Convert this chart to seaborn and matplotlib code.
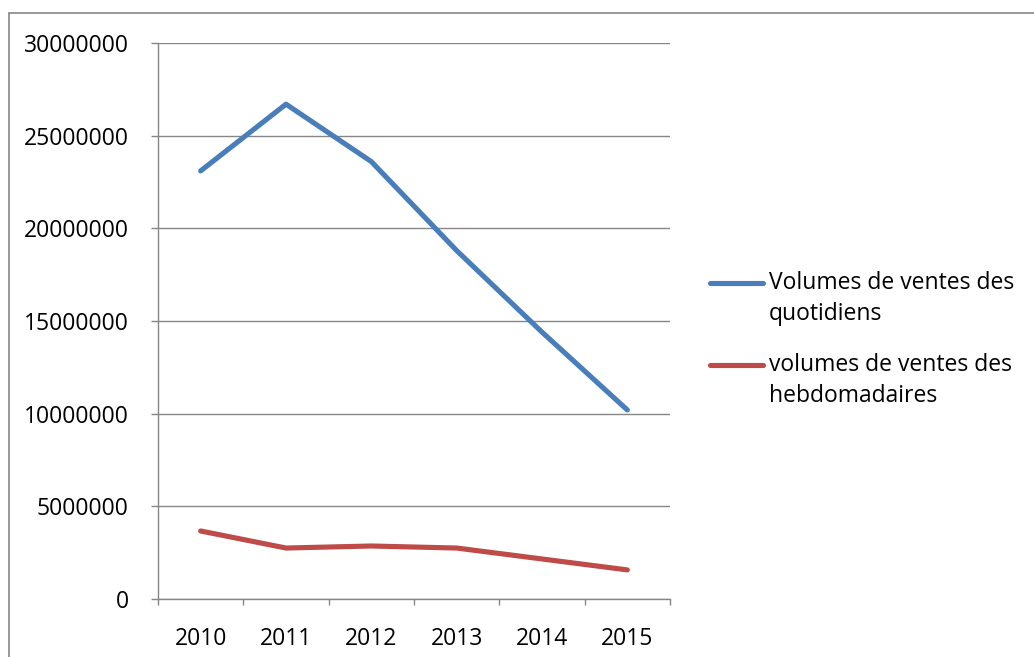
import matplotlib
matplotlib.use("Agg")
import matplotlib.pyplot as plt
from matplotlib.lines import Line2D
import seaborn as sns
import pandas as pd

years = ["2010", "2011", "2012", "2013", "2014", "2015"]
quotidiens = [23100000, 26700000, 23600000, 18800000, 14400000, 10200000]
hebdomadaires = [3670000, 2750000, 2860000, 2750000, 2160000, 1570000]
series_names = ["Volumes de ventes des quotidiens",
                "volumes de ventes des hebdomadaires"]
legend_labels = ["Volumes de ventes des\nquotidiens",
                 "volumes de ventes des\nhebdomadaires"]
y_ticks = [0, 5000000, 10000000, 15000000, 20000000, 25000000, 30000000]

blue = "#4A7EBB"
red = "#BE4B48"
grey = "#868686"

sns.set_theme(style="white")
plt.rcParams["font.family"] = ["Open Sans", "DejaVu Sans"]

df = pd.DataFrame({
    "year": years * 2,
    "pos": list(range(len(years))) * 2,
    "value": quotidiens + hebdomadaires,
    "serie": [series_names[0]] * len(years) + [series_names[1]] * len(years),
})

fig = plt.figure(figsize=(10.34, 6.57), dpi=100)
ax = fig.add_axes([158 / 1034, 58 / 657, 512 / 1034, 556 / 657])

sns.lineplot(data=df, x="pos", y="value", hue="serie",
             palette=[blue, red], linewidth=3.7, legend=False, ax=ax,
             solid_capstyle="round", solid_joinstyle="round")

ax.set_xlim(-0.5, len(years) - 0.5)
ax.set_ylim(0, 30000000)
ax.set_yticks(y_ticks)
ax.set_yticklabels([str(v) for v in y_ticks], fontsize=16.5, color="black")
ax.set_xticks(range(len(years)))
ax.set_xticklabels(years, fontsize=16.5, color="black")
ax.set_xticks([i - 0.5 for i in range(len(years) + 1)], minor=True)
ax.set_xlabel("")
ax.set_ylabel("")

ax.grid(axis="y", color=grey, linewidth=1.0)
ax.set_axisbelow(True)
for side in ["top", "right"]:
    ax.spines[side].set_visible(False)
for side in ["left", "bottom"]:
    ax.spines[side].set_color(grey)
    ax.spines[side].set_linewidth(1.0)

ax.tick_params(axis="y", which="major", direction="out", length=5,
               width=1.0, color=grey, pad=16, left=True)
ax.tick_params(axis="x", which="major", length=0, pad=20)
ax.tick_params(axis="x", which="minor", direction="out", length=4.5,
               width=1.0, color=grey, bottom=True)

# legend drawn to the right of the plot, line aligned with first text line
for i, (lab, col) in enumerate(zip(legend_labels, [blue, red])):
    y_line = 1 - (283 + i * 82) / 657
    fig.add_artist(Line2D([710 / 1034, 763 / 1034], [y_line, y_line],
                          transform=fig.transFigure, color=col,
                          linewidth=3.7, solid_capstyle="round"))
    fig.text(769 / 1034, y_line + 12 / 657, lab, fontsize=16.5,
             va="top", ha="left", color="black", linespacing=1.38)

# chart frame
fig.add_artist(Line2D([9 / 1034, 1.0], [1 - 13 / 657, 1 - 13 / 657],
                      transform=fig.transFigure, color=grey, linewidth=1.2))
fig.add_artist(Line2D([9 / 1034, 9 / 1034], [0.0, 1 - 13 / 657],
                      transform=fig.transFigure, color=grey, linewidth=1.2))

fig.savefig("out.png", dpi=100)
